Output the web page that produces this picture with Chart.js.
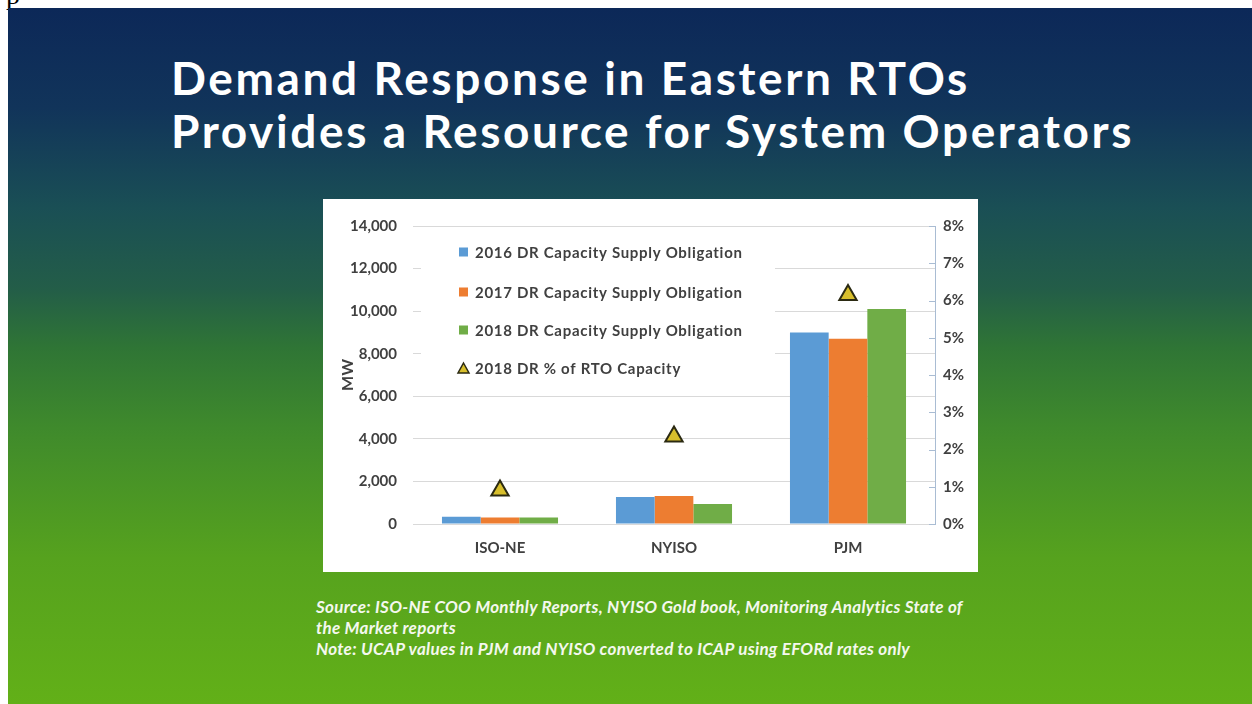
<!DOCTYPE html>
<html>
<head>
<meta charset="utf-8">
<script src="https://cdn.jsdelivr.net/npm/chart.js@4.4.0/dist/chart.umd.min.js"></script>
<style>
  html, body { margin: 0; padding: 0; background: #fff; width: 1252px; height: 704px; overflow: hidden; }
  .slide {
    position: absolute; left: 8px; top: 8px; width: 1244px; height: 696px;
    background: linear-gradient(to bottom, #0c2858 0px, #11345a 100px, #1a4f55 200px, #235d48 280px,
      #2f7535 340px, #3f8a2c 420px, #56a21e 550px, #62b018 696px);
  }
  .crop { position: absolute; left: 6px; top: -21px; font: 28px "Liberation Serif", serif; color: #000; }
  .title {
    position: absolute; left: 171px; top: 51px; color: #fff;
    font: bold 46px Lato, sans-serif; line-height: 53px; letter-spacing: 2.6px; white-space: nowrap;
  }
  .box { position: absolute; left: 323px; top: 199px; width: 655px; height: 373px; background: #fff; }
  .notes {
    position: absolute; left: 316px; top: 596px; color: #f4f8ee;
    font: italic bold 17px Lato, sans-serif; line-height: 21px; letter-spacing: 0.3px; white-space: nowrap;
  }
</style>
</head>
<body>
<div class="crop">p</div>
<div class="slide"></div>
<div class="title">Demand Response in Eastern RTOs<br>Provides a Resource for System Operators</div>
<div class="box"><canvas id="chart" width="655" height="373"></canvas></div>
<div class="notes">Source: ISO-NE COO Monthly Reports, NYISO Gold book, Monitoring Analytics State of<br>the Market reports<br>Note: UCAP values in PJM and NYISO converted to ICAP using EFORd rates only</div>

<script>
// values
const regions = ['ISO-NE', 'NYISO', 'PJM']
const dr2016 = [340, 1270, 9000]
const dr2017 = [300, 1310, 8700]
const dr2018 = [300, 940, 10100]
const drPct2018 = [0.9, 2.35, 6.15]

const seriesNames = [
  '2016 DR Capacity Supply Obligation',
  '2017 DR Capacity Supply Obligation',
  '2018 DR Capacity Supply Obligation',
  '2018 DR % of RTO Capacity'
]

const blue = '#5b9bd5'
const orange = '#ed7d31'
const green = '#70ad47'
const gold = '#d8bf2c'
const textColor = '#404040'

Chart.defaults.font.family = 'Lato, sans-serif'
Chart.defaults.font.weight = 'bold'
Chart.defaults.font.size = 15
Chart.defaults.color = textColor

// legend order follows the slide: bars first, triangle last
const legendOrder = [1, 2, 3, 0]

// legend sits inside the plot on a white patch, like the Excel original
const insideLegend = {
  id: 'insideLegend',
  beforeDatasetsDraw: (chart) => {
    const {ctx} = chart
    ctx.save()
    ctx.fillStyle = '#fff'
    ctx.fillRect(98, 35, 354, 155)
    const rows = [53, 93, 131, 169]
    ctx.font = 'bold 15px Lato, sans-serif'
    ctx.letterSpacing = '0.7px'
    ctx.textBaseline = 'middle'
    legendOrder.forEach((idx, i) => {
      const ds = chart.data.datasets[idx]
      const y = rows[i]
      if (ds.type === 'line') {
        ctx.beginPath()
        ctx.moveTo(140.5, y - 5)
        ctx.lineTo(146, y + 5)
        ctx.lineTo(135, y + 5)
        ctx.closePath()
        ctx.fillStyle = gold
        ctx.fill()
        ctx.lineWidth = 1.5
        ctx.strokeStyle = '#2b2a12'
        ctx.stroke()
      } else {
        ctx.fillStyle = ds.backgroundColor
        ctx.fillRect(136, y - 4.5, 9, 9)
      }
      ctx.fillStyle = textColor
      ctx.fillText(ds.label, 152, y + 1)
    })
    ctx.restore()
  }
}

// small tick marks on the inner side of the right axis
const innerTicks = {
  id: 'innerTicks',
  afterDraw: (chart) => {
    const {ctx} = chart
    const s = chart.scales.y1
    ctx.save()
    ctx.strokeStyle = '#a9bcd3'
    ctx.lineWidth = 1
    s.ticks.forEach(t => {
      const y = Math.round(s.getPixelForValue(t.value)) + 0.5
      ctx.beginPath()
      ctx.moveTo(s.left - 6, y)
      ctx.lineTo(s.left, y)
      ctx.stroke()
    })
    ctx.restore()
  }
}

const data = {
  labels: regions,
  datasets: [
    {type: 'line', label: seriesNames[3], data: drPct2018, yAxisID: 'y1', showLine: false,
      pointStyle: 'triangle', pointRadius: 10, pointHoverRadius: 10,
      backgroundColor: gold, borderColor: '#2b2a12', borderWidth: 2, order: 0},
    {label: seriesNames[0], data: dr2016, backgroundColor: blue, order: 1},
    {label: seriesNames[1], data: dr2017, backgroundColor: orange, order: 1},
    {label: seriesNames[2], data: dr2018, backgroundColor: green, order: 1}
  ]
}

const options = {
  responsive: false,
  animation: false,
  layout: {padding: {top: 27, left: 0, right: 0, bottom: 0}},
  datasets: {bar: {categoryPercentage: 0.667, barPercentage: 1}},
  plugins: {legend: {display: false}, tooltip: {enabled: false}},
  scales: {
    x: {
      grid: {display: false, drawTicks: false},
      border: {display: false},
      ticks: {padding: 15},
      afterFit: (s) => { s.height = 48 }
    },
    y: {
      min: 0, max: 14000,
      ticks: {stepSize: 2000, padding: 16, callback: v => v.toLocaleString('en-US')},
      grid: {color: '#d9d9d9', drawTicks: false},
      border: {display: false},
      title: {display: true, text: 'MW', font: {size: 16, weight: 'bold'}, padding: {top: 15, bottom: 0}},
      afterFit: (s) => { s.width = 90 }
    },
    y1: {
      position: 'right',
      min: 0, max: 8,
      ticks: {stepSize: 1, padding: 8, callback: v => v + '%'},
      grid: {drawOnChartArea: false, drawTicks: false},
      border: {color: '#a9bcd3'},
      afterFit: (s) => { s.width = 43 }
    }
  }
}

const ctx = document.getElementById('chart').getContext('2d')
const myChart = new Chart(ctx, {
  type: 'bar',
  data,
  options,
  plugins: [insideLegend, innerTicks]
})
</script>
</body>
</html>
